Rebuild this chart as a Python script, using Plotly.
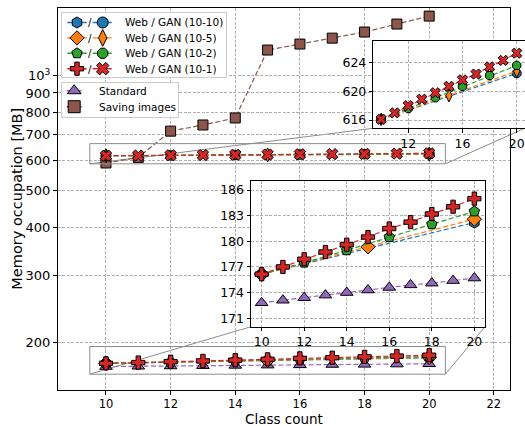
import math
import plotly.graph_objects as go

W, H = 525, 426

# ---------------- data ----------------
classes = [10, 11, 12, 13, 14, 15, 16, 17, 18, 19, 20]
classes_10_2 = [10, 12, 14, 16, 18, 20]
classes_10_5 = [10, 15, 20]
classes_10_10 = [10, 20]

standard = [172.8, 173.1, 173.4, 173.7, 174.0, 174.3, 174.6, 174.9, 175.1, 175.4, 175.7]
saving_images = [590, 610, 715, 742, 774, 1166, 1209, 1253, 1300, 1364, 1431]

web_10_1 = [176.15, 177.0, 177.9, 178.75, 179.6, 180.5, 181.5, 182.25, 183.2, 184.05, 185.0]
web_10_2 = [176.15, 177.5, 178.95, 180.5, 182.0, 183.5]
web_10_5 = [176.15, 179.35, 182.6]
web_10_10 = [176.15, 182.2]

gan_10_1 = [616.1, 617.0, 618.0, 618.9, 619.8, 620.7, 621.6, 622.4, 623.4, 624.3, 625.3]
gan_10_2 = [616.1, 617.6, 619.1, 620.7, 622.2, 623.6]
gan_10_5 = [616.1, 619.4, 622.8]
gan_10_10 = [616.1, 622.5]

x_ticks_main = [10, 12, 14, 16, 18, 20, 22]
y_ticks_main = [200, 300, 400, 500, 600, 700, 800, 900, 1000]
y_ticktext_main = ["200", "300", "400", "500", "600", "700", "800", "900", "10<sup>3</sup>"]
x_ticks_low = [10, 12, 14, 16, 18, 20]
y_ticks_low = [171, 174, 177, 180, 183, 186]
x_ticks_up = [12, 16, 20]
y_ticks_up = [616, 620, 624]

legend1_labels = ["Web / GAN (10-10)", "Web / GAN (10-5)", "Web / GAN (10-2)", "Web / GAN (10-1)"]
legend2_labels = ["Standard", "Saving images"]

# ---------------- styles ----------------
C_BLUE, C_ORANGE, C_GREEN, C_RED = "#1f77b4", "#ff7f0e", "#2ca02c", "#d62728"
C_PURPLE, C_BROWN = "#9467bd", "#8c564b"
FONT = "DejaVu Sans"
GRID = "#b0b0b0"
BOX = "#8c8c8c"

# layout in pixels (left, right) / (top, bottom)
MAIN_X, MAIN_Y = (57.5, 510.0), (8.3, 390.0)
MAIN_XR, MAIN_YR = (8.5, 22.5), (150.0, 1500.0)
LOW_X, LOW_Y = (251.0, 485.0), (180.7, 326.7)
LOW_XR, LOW_YR = (9.5, 20.5), (170.0, 187.1)
UP_X, UP_Y = (373.3, 524.6), (41.0, 128.3)
UP_XR, UP_YR = (9.42, 20.58), (614.85, 627.0)
RECT_UP = ((9.5, 20.5), (587.0, 663.0))
RECT_LOW = ((9.5, 20.5), (165.0, 195.0))
LEG1_X, LEG1_Y = (62.3, 226.0), (13.3, 77.3)
LEG2_X, LEG2_Y = (62.3, 177.7), (82.7, 116.7)


def fx(p):
    return p / W


def fy(p):
    return 1 - p / H


def xdom(px):
    return [fx(px[0]), fx(px[1])]


def ydom(py):
    return [fy(py[1]), fy(py[0])]


def main_px(xv, yv):
    x = MAIN_X[0] + (xv - MAIN_XR[0]) / (MAIN_XR[1] - MAIN_XR[0]) * (MAIN_X[1] - MAIN_X[0])
    ly0, ly1 = math.log10(MAIN_YR[0]), math.log10(MAIN_YR[1])
    y = MAIN_Y[1] - (math.log10(yv) - ly0) / (ly1 - ly0) * (MAIN_Y[1] - MAIN_Y[0])
    return x, y


fig = go.Figure()


def series(x, y, color, symbol, size, xa, ya, lw=1.2):
    fig.add_trace(go.Scatter(
        x=x, y=y, mode="lines+markers", xaxis=xa, yaxis=ya, showlegend=False,
        line=dict(color=color, width=lw, dash="5px,2.5px"),
        marker=dict(symbol=symbol, size=size, color=color, line=dict(color="black", width=1)),
        cliponaxis=True,
    ))


web_specs = [
    (classes_10_10, web_10_10, C_BLUE, "hexagon"),
    (classes_10_5, web_10_5, C_ORANGE, "diamond"),
    (classes_10_2, web_10_2, C_GREEN, "pentagon"),
    (classes, web_10_1, C_RED, "cross"),
]
gan_specs = [
    (classes_10_10, gan_10_10, C_BLUE, "circle"),
    (classes_10_5, gan_10_5, C_ORANGE, "diamond-tall"),
    (classes_10_2, gan_10_2, C_GREEN, "octagon"),
    (classes, gan_10_1, C_RED, "x"),
]

# ---- main axes
series(classes, saving_images, C_BROWN, "square", 10, "x", "y")
series(classes, standard, C_PURPLE, "triangle-up", 11, "x", "y")
for xs, ys, c, s in web_specs:
    series(xs, ys, c, s, 11, "x", "y")
for xs, ys, c, s in gan_specs:
    series(xs, ys, c, s, 10, "x", "y")

for (rx, ry) in (RECT_UP, RECT_LOW):
    fig.add_trace(go.Scatter(
        x=[rx[0], rx[1], rx[1], rx[0], rx[0]], y=[ry[0], ry[0], ry[1], ry[1], ry[0]],
        mode="lines", xaxis="x", yaxis="y", showlegend=False, hoverinfo="skip",
        line=dict(color=BOX, width=1),
    ))

# ---- lower inset (standard + web)
series(classes, standard, C_PURPLE, "triangle-up", 11, "x2", "y2")
for xs, ys, c, s in web_specs:
    series(xs, ys, c, s, 11, "x2", "y2")

# ---- upper inset (gan)
for xs, ys, c, s in gan_specs:
    series(xs, ys, c, s, 9, "x3", "y3")

# ---- custom legends (in pixel coordinates of their own boxes)
leg1_row0, leg1_dy = 22.5, 15.4
handles1 = list(zip(web_specs, gan_specs))
annotations = []
for i, ((_, _, c, s1), (_, _, _, s2)) in enumerate(handles1):
    yy = leg1_row0 + i * leg1_dy
    for (x0, x1, xm, sym) in ((67.3, 86.7, 77.0, s1), (92.7, 111.7, 102.7, s2)):
        fig.add_trace(go.Scatter(x=[x0, x1], y=[yy, yy], mode="lines", xaxis="x4", yaxis="y4",
                                 showlegend=False, hoverinfo="skip", line=dict(color=c, width=1.4)))
        fig.add_trace(go.Scatter(x=[xm], y=[yy], mode="markers", xaxis="x4", yaxis="y4",
                                 showlegend=False, hoverinfo="skip",
                                 marker=dict(symbol=sym, size=11 if sym != "diamond-tall" else 12, color=c,
                                             line=dict(color="black", width=1))))
    annotations.append(dict(x=89.8, y=yy, xref="x4", yref="y4", text="/", showarrow=False,
                            xanchor="center", yanchor="middle", font=dict(family=FONT, size=10.5, color="black")))
    annotations.append(dict(x=123.3, y=yy, xref="x4", yref="y4", text=legend1_labels[i], showarrow=False,
                            xanchor="left", yanchor="middle", font=dict(family=FONT, size=10.5, color="black")))

leg2_row0, leg2_dy = 90.7, 16.0
for i, (c, sym) in enumerate(((C_PURPLE, "triangle-up"), (C_BROWN, "square"))):
    yy = leg2_row0 + i * leg2_dy
    fig.add_trace(go.Scatter(x=[66.7, 81.7], y=[yy, yy], mode="lines", xaxis="x5", yaxis="y5",
                             showlegend=False, hoverinfo="skip", line=dict(color=c, width=1.4)))
    fig.add_trace(go.Scatter(x=[74.2], y=[yy], mode="markers", xaxis="x5", yaxis="y5",
                             showlegend=False, hoverinfo="skip",
                             marker=dict(symbol=sym, size=12, color=c, line=dict(color="black", width=1))))
    annotations.append(dict(x=96.7, y=yy, xref="x5", yref="y5", text=legend2_labels[i], showarrow=False,
                            xanchor="left", yanchor="middle", font=dict(family=FONT, size=10.5, color="black")))

# axis titles
annotations.append(dict(x=fx((MAIN_X[0] + MAIN_X[1]) / 2), y=fy(419.0), xref="paper", yref="paper",
                        text="Class count", showarrow=False, xanchor="center", yanchor="middle",
                        borderpad=0, font=dict(family=FONT, size=13.5, color="black")))
annotations.append(dict(x=fx(17.5), y=fy((MAIN_Y[0] + MAIN_Y[1]) / 2), xref="paper", yref="paper",
                        text="Memory occupation [MB]", showarrow=False, textangle=-90,
                        xanchor="center", yanchor="middle", font=dict(family=FONT, size=14.5, color="black")))

# connector lines
shapes = []
for (rx, ry), ix, iy in ((RECT_UP, UP_X, UP_Y), (RECT_LOW, LOW_X, LOW_Y)):
    bl = main_px(rx[0], ry[0])
    br = main_px(rx[1], ry[0])
    for (p, q) in ((bl, (ix[0], iy[1])), (br, (ix[1], iy[1]))):
        shapes.append(dict(type="line", xref="paper", yref="paper", layer="below",
                           x0=fx(p[0]), y0=fy(p[1]), x1=fx(q[0]), y1=fy(q[1]),
                           line=dict(color=BOX, width=1)))


def ax_style(size, **kw):
    d = dict(showline=True, mirror=True, linecolor="black", linewidth=1, ticks="outside",
             ticklen=3.5, tickcolor="black", tickwidth=1,
             tickfont=dict(family=FONT, size=size, color="black"),
             showgrid=True, gridcolor=GRID, gridwidth=0.8, griddash="3px,1.5px", zeroline=False)
    d.update(kw)
    return d


def leg_axis(rng, **kw):
    d = dict(range=rng, showline=True, mirror=True, linecolor="#cccccc", linewidth=1,
             showgrid=False, zeroline=False, showticklabels=False, ticks="", fixedrange=True)
    d.update(kw)
    return d


fig.update_layout(
    width=W, height=H, margin=dict(l=0, r=0, t=0, b=0),
    paper_bgcolor="white", plot_bgcolor="white", showlegend=False,
    font=dict(family=FONT, color="black"),
    xaxis=ax_style(11.5, domain=xdom(MAIN_X), range=list(MAIN_XR), tickvals=x_ticks_main, anchor="y",
                   ticklabelstandoff=0),
    yaxis=ax_style(13, domain=ydom(MAIN_Y), type="log",
                   range=[math.log10(MAIN_YR[0]), math.log10(MAIN_YR[1])],
                   tickvals=y_ticks_main, ticktext=y_ticktext_main, anchor="x"),
    xaxis2=ax_style(12.5, domain=xdom(LOW_X), range=list(LOW_XR), tickvals=x_ticks_low, anchor="y2",
                    ticklabelstandoff=0),
    yaxis2=ax_style(12.5, domain=ydom(LOW_Y), range=list(LOW_YR), tickvals=y_ticks_low, anchor="x2"),
    xaxis3=ax_style(12.5, domain=xdom(UP_X), range=list(UP_XR), tickvals=x_ticks_up, anchor="y3",
                    ticklabelstandoff=0),
    yaxis3=ax_style(12.5, domain=ydom(UP_Y), range=list(UP_YR), tickvals=y_ticks_up, anchor="x3"),
    xaxis4=leg_axis(list(LEG1_X), domain=xdom(LEG1_X), anchor="y4"),
    yaxis4=leg_axis([LEG1_Y[1], LEG1_Y[0]], domain=ydom(LEG1_Y), anchor="x4"),
    xaxis5=leg_axis(list(LEG2_X), domain=xdom(LEG2_X), anchor="y5"),
    yaxis5=leg_axis([LEG2_Y[1], LEG2_Y[0]], domain=ydom(LEG2_Y), anchor="x5"),
    annotations=annotations,
    shapes=shapes,
)

fig.write_html("out.html")
